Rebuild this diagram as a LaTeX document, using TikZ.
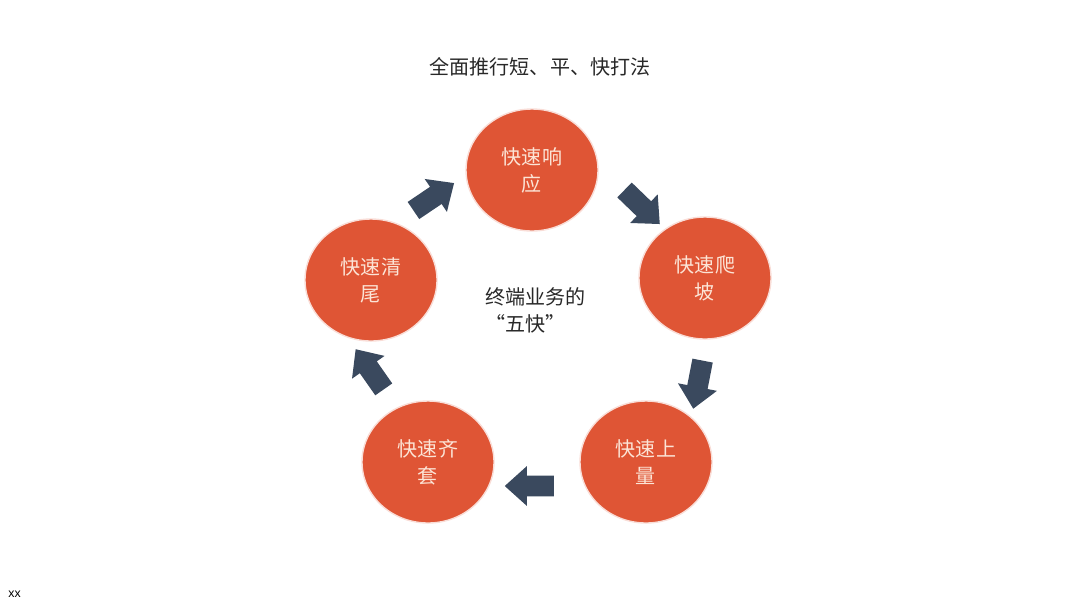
\documentclass[tikz,border=0pt]{standalone}
\usepackage{fontspec}
\setmainfont{Noto Sans CJK SC}
\setsansfont{Liberation Sans}
\usetikzlibrary{shapes.geometric, shapes.arrows}
\definecolor{discRed}{RGB}{223,85,53}
\definecolor{discText}{RGB}{252,228,214}
\definecolor{arrowSlate}{RGB}{58,73,94}
\definecolor{inkGray}{RGB}{40,40,40}
\tikzset{
  disc/.style={ellipse, fill=discRed, draw=discRed!20, line width=0.8pt,
               minimum width=26.4mm, minimum height=24.4mm, inner sep=0pt,
               align=center, text=discText},
  cyclearrow/.style={single arrow, fill=arrowSlate, draw=none,
                     inner xsep=0pt, inner ysep=2mm,
                     minimum height=9.8mm,
                     single arrow head extend=1.9mm, single arrow tip angle=84},
}

\begin{document}
\begin{tikzpicture}[x=0.2mm, y=-0.2mm,
    font=\fontsize{11.4}{15.4}\selectfont]
  \useasboundingbox (0,0) rectangle (1080,608);
  % ================= title =================
  \node[text=inkGray] (title) at (540,67) {全面推行短、平、快打法};
  % ================= the five discs =================
  \node[disc] (resp)  at (532,170) {快速响\\应};
  \node[disc] (climb) at (705,278) {快速爬\\坡};
  \node[disc] (vol)   at (646,462) {快速上\\量};
  \node[disc] (kit)   at (428,462) {快速齐\\套};
  \node[disc] (tail)  at (371,280) {快速清\\尾};
  % ================= arrows round the ring =================
  \node[cyclearrow, rotate=-44]  (resp-climb) at (638,203) {};
  \node[cyclearrow, rotate=-101] (climb-vol)  at (699,379) {};
  \node[cyclearrow, rotate=180]  (vol-kit)    at (535,486) {};
  \node[cyclearrow, rotate=125]  (kit-tail)   at (373,374) {};
  \node[cyclearrow, rotate=34]   (tail-resp)  at (429,200) {};
  % ================= centre label =================
  \node[text=inkGray, align=left, anchor=west, inner sep=0pt] (hub)
    at (485,310) {终端业务的\\“五快”};
  % footer mark
  \node[font=\sffamily\fontsize{7}{8}\selectfont, anchor=west, inner sep=0pt]
    (foot) at (8,594) {xx};
\end{tikzpicture}
\end{document}
